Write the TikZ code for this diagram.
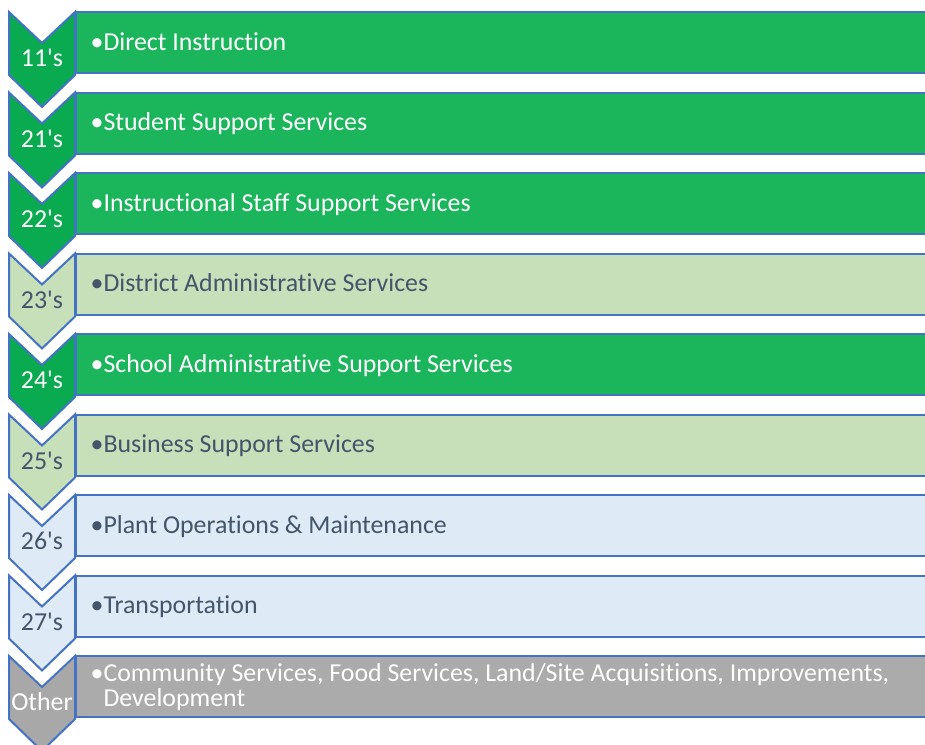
\documentclass[tikz,border=0pt]{standalone}
\usepackage{fontspec}
\newfontfamily\calfont{Carlito}[Ligatures={NoCommon}]
\usepackage{xcolor}
\definecolor{edgeblue}{HTML}{4472C4}
\definecolor{chevdark}{HTML}{0AAB50}
\definecolor{bardark}{HTML}{1BB55C}
\definecolor{chevlight}{HTML}{C8E0BA}
\definecolor{barlight}{HTML}{C8E0BA}
\definecolor{chevblue}{HTML}{DEEAF6}
\definecolor{barblue}{HTML}{DEEBF7}
\definecolor{chevgray}{HTML}{A8A8A8}
\definecolor{bargray}{HTML}{ABABAB}
\definecolor{inkdark}{HTML}{44546A}
\newcommand\itemfont{\calfont\fontsize{25.85}{25}\selectfont}
\tikzset{
  chev/.style={draw=edgeblue, line width=2pt, line join=miter},
  bar/.style={draw=edgeblue, line width=2pt, anchor=north west, outer sep=0pt,
    inner sep=0pt, minimum width=853pt, minimum height=61pt},
  item/.style={anchor=base west, inner sep=0pt, font=\itemfont},
  code/.style={anchor=base, inner sep=0pt, font=\itemfont},
}

\begin{document}
\begin{tikzpicture}[x=1pt,y=-1pt]
\useasboundingbox (0,0) rectangle (925,744);
\clip (0,0) rectangle (925,744);
\draw[chev, fill=chevdark] (9,12) -- ++(33,31) -- ++(33,-31) -- ++(0,63) -- ++(-33,32) -- ++(-33,-32) -- cycle;
\draw[chev, fill=chevdark] (9,92.5) -- ++(33,31) -- ++(33,-31) -- ++(0,63) -- ++(-33,32) -- ++(-33,-32) -- cycle;
\draw[chev, fill=chevdark] (9,173) -- ++(33,31) -- ++(33,-31) -- ++(0,63) -- ++(-33,32) -- ++(-33,-32) -- cycle;
\draw[chev, fill=chevlight] (9,253.5) -- ++(33,31) -- ++(33,-31) -- ++(0,63) -- ++(-33,32) -- ++(-33,-32) -- cycle;
\draw[chev, fill=chevdark] (9,334) -- ++(33,31) -- ++(33,-31) -- ++(0,63) -- ++(-33,32) -- ++(-33,-32) -- cycle;
\draw[chev, fill=chevlight] (9,414.5) -- ++(33,31) -- ++(33,-31) -- ++(0,63) -- ++(-33,32) -- ++(-33,-32) -- cycle;
\draw[chev, fill=chevblue] (9,495) -- ++(33,31) -- ++(33,-31) -- ++(0,63) -- ++(-33,32) -- ++(-33,-32) -- cycle;
\draw[chev, fill=chevblue] (9,575.5) -- ++(33,31) -- ++(33,-31) -- ++(0,63) -- ++(-33,32) -- ++(-33,-32) -- cycle;
\draw[chev, fill=chevgray] (9,656) -- ++(33,31) -- ++(33,-31) -- ++(0,63) -- ++(-33,32) -- ++(-33,-32) -- cycle;

\node[bar, fill=bardark] (bar11) at (76,12) {};
\node[bar, fill=bardark] (bar21) at (76,92.5) {};
\node[bar, fill=bardark] (bar22) at (76,173) {};
\node[bar, fill=barlight] (bar23) at (76,253.5) {};
\node[bar, fill=bardark] (bar24) at (76,334) {};
\node[bar, fill=barlight] (bar25) at (76,414.5) {};
\node[bar, fill=barblue] (bar26) at (76,495) {};
\node[bar, fill=barblue] (bar27) at (76,575.5) {};
\node[bar, fill=bargray] (barother) at (76,656) {};

\node[code, text=white] (code11) at (42,66.5) {11's};
\node[code, text=white] (code21) at (42,147) {21's};
\node[code, text=white] (code22) at (42,227.5) {22's};
\node[code, text=inkdark] (code23) at (42,308) {23's};
\node[code, text=white] (code24) at (42,388.5) {24's};
\node[code, text=inkdark] (code25) at (42,469) {25's};
\node[code, text=inkdark] (code26) at (42,549.5) {26's};
\node[code, text=inkdark] (code27) at (42,630) {27's};
\node[code, text=white] (codeother) at (42,710) {Other};

\node[item, text=white] (txt11) at (90.5,50) {•Direct Instruction};
\node[item, text=white] (txt21) at (90.5,130.5) {•Student Support Services};
\node[item, text=white] (txt22) at (90.5,211) {•Instructional Staff Support Services};
\node[item, text=inkdark] (txt23) at (90.5,291.5) {•District Administrative Services};
\node[item, text=white] (txt24) at (90.5,372) {•School Administrative Support Services};
\node[item, text=inkdark] (txt25) at (90.5,452.5) {•Business Support Services};
\node[item, text=inkdark] (txt26) at (90.5,533) {•Plant Operations \& Maintenance};
\node[item, text=inkdark] (txt27) at (90.5,613.5) {•Transportation};
\node[item, text=white, align=left] (txtother) at (90.5,706.7)
  {•Community Services, Food Services, Land/Site Acquisitions, Improvements,\\\hphantom{•}Development};
\end{tikzpicture}
\end{document}
